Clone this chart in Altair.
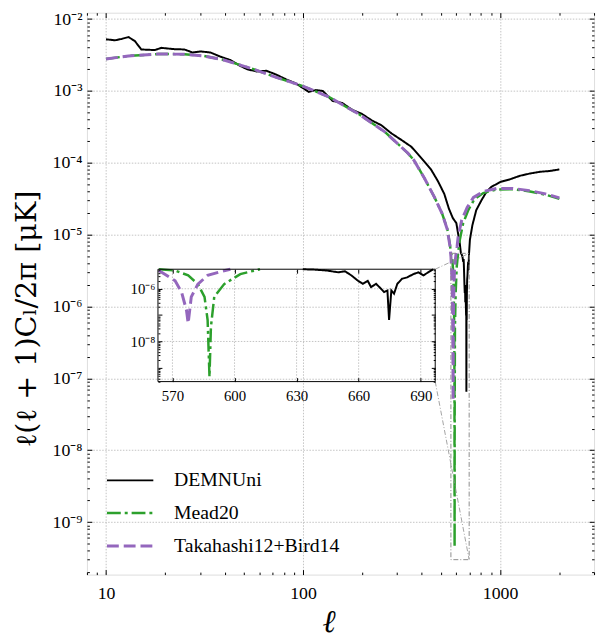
import altair as alt
import pandas as pd

# ---------------- data ----------------
SERIES = ["DEMNUni", "Mead20", "Takahashi12+Bird14"]
COLORS = ["#000000", "#2ca02c", "#9467bd"]
DASHES = [[1, 0], [14, 4, 3, 4], [12, 5]]
WIDTHS = [2, 3, 3.5]

ell_demnuni = [10, 11.1, 12, 13, 14, 15.1, 17.7, 19.1, 22.2, 25, 27.5, 30.2, 33.9, 38.1, 42.7, 47.9,
               51.9, 58.1, 65.2, 73.1, 82.1, 92.1, 107, 116, 126, 141, 158, 178, 199, 223, 250, 281,
               315, 354, 382, 412, 446, 483, 521, 550, 576, 600, 610, 624, 633, 639, 644.7, 650.2,
               653.4, 656.5, 659.7, 662.0, 664.4, 666.0, 668.4, 670.8, 672.3, 673.9, 674.7, 675.8,
               677.1, 678.7, 681.0, 683.4, 686.5, 688.9, 691.3, 693.6, 696.0, 703, 724, 757, 804,
               851, 901, 1000, 1123, 1262, 1418, 1594, 1790, 2000]
cl_demnuni = [5.24e-3, 5.07e-3, 5.3e-3, 5.63e-3, 4.96e-3, 3.78e-3, 3.71e-3, 3.98e-3, 3.82e-3, 3.78e-3,
              3.43e-3, 3.55e-3, 3.43e-3, 3.0e-3, 2.70e-3, 2.24e-3, 2.01e-3, 1.87e-3, 1.91e-3, 1.69e-3,
              1.45e-3, 1.27e-3, 9.7e-4, 1.03e-3, 1.0e-3, 7.3e-4, 6.8e-4, 5.45e-4, 4.8e-4, 3.9e-4,
              3.33e-4, 2.57e-4, 2.09e-4, 1.68e-4, 1.33e-4, 1.05e-4, 8.1e-5, 5.6e-5, 3.7e-5, 2.3e-5,
              1.7e-5, 1.45e-5, 1.1e-5, 7.7e-6, 5.5e-6, 5.3e-6, 4.9e-6, 4.2e-6, 4.6e-6, 3.2e-6,
              2.0e-6, 1.54e-6, 2.0e-6, 1.15e-6, 1.54e-6, 1.0e-6, 7.5e-7, 8.6e-7, 6.5e-8, 8.6e-7,
              6.5e-7, 1.54e-6, 2.4e-6, 2.7e-6, 3.6e-6, 4.2e-6, 3.2e-6, 4.2e-6, 5.5e-6, 8.5e-6,
              1.36e-5, 2.19e-5, 3.0e-5, 3.9e-5, 4.6e-5, 5.4e-5, 5.9e-5, 6.6e-5, 7.1e-5, 7.5e-5,
              7.7e-5, 8.1e-5]

ell_mead = [10, 13, 18.4, 25, 31.4, 39.6, 54, 73.1, 99.6, 135, 191, 260, 340, 366, 412, 465, 508,
            540, 557, 563.5, 571.3, 577.6, 582.3, 585.5, 587, 587.9, 588.6, 590.2, 595, 602.8, 612.3,
            625, 650, 690, 740, 822, 960, 1164, 1418, 1700, 2000]
cl_mead = [2.79e-3, 3.07e-3, 3.27e-3, 3.25e-3, 3.07e-3, 2.70e-3, 2.08e-3, 1.55e-3, 1.17e-3, 8.3e-4,
           4.8e-4, 2.7e-4, 1.37e-4, 1.08e-4, 6.2e-5, 3.3e-5, 1.97e-5, 1.2e-5, 7.2e-6, 5.5e-6,
           4.9e-6, 3.2e-6, 1.5e-6, 4.9e-7, 6.5e-8, 4.5e-10, 3.6e-8, 4.9e-7, 1.5e-6, 3.6e-6,
           5.5e-6, 8.5e-6, 1.45e-5, 2.2e-5, 3.1e-5, 3.8e-5, 4.25e-5, 4.3e-5, 4.0e-5, 3.6e-5, 3.15e-5]

ell_taka = [10, 13, 18.4, 25, 31.4, 39.6, 54, 73.1, 99.6, 135, 191, 260, 340, 366, 412, 465, 508,
            540, 557, 563.4, 571.3, 574.4, 576.8, 577.6, 579.1, 582.3, 587, 593.4, 598, 605, 613,
            639, 681, 733, 822, 960, 1164, 1418, 1700, 2000]
cl_taka = [2.79e-3, 3.07e-3, 3.27e-3, 3.25e-3, 3.07e-3, 2.70e-3, 2.08e-3, 1.55e-3, 1.17e-3, 8.3e-4,
           4.8e-4, 2.7e-4, 1.37e-4, 1.08e-4, 6.2e-5, 3.3e-5, 1.97e-5, 1.18e-5, 6.9e-6, 4.9e-6,
           2.0e-6, 7.5e-7, 1.5e-7, 4.9e-8, 4.9e-7, 1.5e-6, 3.2e-6, 4.5e-6, 5.5e-6, 6.8e-6,
           9.5e-6, 1.6e-5, 2.4e-5, 3.3e-5, 4.0e-5, 4.4e-5, 4.4e-5, 4.1e-5, 3.7e-5, 3.25e-5]

# tick labels
X_LABELS = [10, 100, 1000]
Y_LABELS = [1e-9, 1e-8, 1e-7, 1e-6, 1e-5, 1e-4, 1e-3, 1e-2]
INSET_X_LABELS = [570, 600, 630, 660, 690]
INSET_Y_LABELS = [1e-8, 1e-6]

# ---------------- layout ----------------
W, H = 514, 569.5
X_DOM = [8, 3000]
Y_DOM = [1.86e-10, 1.228e-2]
INSET_X_DOM = [563, 697]
INSET_Y_DOM = [3e-10, 5.5e-6]
INSET_X_RANGE = [72, 353]
INSET_Y_RANGE = [373.9, 260]
FONT = "Liberation Serif"
GRID_COLOR = "#b4b4b4"
GRID_DASH = [1.5, 1.5]
GRID = dict(grid=True, gridColor=GRID_COLOR, gridDash=GRID_DASH, gridWidth=0.8)

frames = []
for name, ls, vs in [(SERIES[0], ell_demnuni, cl_demnuni), (SERIES[1], ell_mead, cl_mead),
                     (SERIES[2], ell_taka, cl_taka)]:
    frames.append(pd.DataFrame({"series": name, "l": ls, "v": vs}))
df = pd.concat(frames, ignore_index=True)

MAJOR = "abs(log(datum.value)/LN10 - round(log(datum.value)/LN10)) < 0.001"
SUP = "['⁰','¹','²','³','⁴','⁵','⁶','⁷','⁸','⁹']"
SUP_EXPR = f"'10⁻' + {SUP}[round(-log(datum.value)/LN10)]"

x_ticks = [8, 9] + [k * 10 for k in range(1, 10)] + [k * 100 for k in range(1, 10)] + [1000, 2000, 3000]
y_ticks = [k * 10.0 ** e for e in range(-10, -1) for k in range(1, 10)
           if Y_DOM[0] <= k * 10.0 ** e <= Y_DOM[1]]
iy_ticks = [k * 10.0 ** e for e in range(-10, -5) for k in range(1, 10)
            if INSET_Y_DOM[0] <= k * 10.0 ** e <= INSET_Y_DOM[1]]


def tick_axis(orient, offset, values, big, small, test):
    return alt.Axis(orient=orient, offset=offset, values=values, labels=False, domain=False,
                    grid=False, ticks=True, tickColor="black", tickWidth=1,
                    tickSize={"condition": {"test": test, "value": big}, "value": small},
                    title=None, zindex=2)


xs = alt.Scale(type="log", domain=X_DOM, nice=False)
ys = alt.Scale(type="log", domain=Y_DOM, nice=False)
ixs = alt.Scale(type="linear", domain=INSET_X_DOM, range=INSET_X_RANGE, nice=False, zero=False)
iys = alt.Scale(type="log", domain=INSET_Y_DOM, range=INSET_Y_RANGE, nice=False)

legend = alt.Legend(title=None, orient="none", legendX=30.3, legendY=461, symbolType="M-2,0H2",
                    symbolSize=552, symbolStrokeWidth=3, labelFont=FONT, labelFontSize=20,
                    labelColor="black", labelOffset=31, rowPadding=10, padding=0, labelLimit=400)
color = alt.Color("series:N", scale=alt.Scale(domain=SERIES, range=COLORS), legend=legend)
dash = alt.StrokeDash("series:N", scale=alt.Scale(domain=SERIES, range=DASHES), legend=legend)
width = alt.StrokeWidth("series:N", scale=alt.Scale(domain=SERIES, range=WIDTHS), legend=None)

x_label_axis = alt.Axis(orient="bottom", values=X_LABELS, labelExpr="format(datum.value, 'd')",
                        ticks=False, domain=False, labelFont=FONT, labelFontSize=18,
                        labelColor="black", labelPadding=10, title="ℓ", titleFont=FONT,
                        titleFontSize=32, titleFontWeight="normal", titleFontStyle="italic",
                        titleColor="black", titleX=245, titleY=58, titleBaseline="alphabetic",
                        titleAlign="center", zindex=0, **GRID)
y_label_axis = alt.Axis(orient="left", values=Y_LABELS, labelExpr=SUP_EXPR, ticks=False,
                        domain=False, labelFont=FONT, labelFontSize=18, labelColor="black",
                        labelPadding=5, title="ℓ(ℓ + 1)Cₗ/2π [μK]", titleFont="DejaVu Serif",
                        titleFontSize=29, titleFontWeight="normal", titleColor="black",
                        titleX=-61, titleY=310, titleAngle=270, titleBaseline="middle",
                        titleAlign="center", zindex=0, **GRID)

main_lines = alt.Chart(df).mark_line().encode(
    x=alt.X("l:Q", scale=xs, axis=x_label_axis),
    y=alt.Y("v:Q", scale=ys, axis=y_label_axis),
    color=color, strokeDash=dash, strokeWidth=width)

ticks_b = alt.Chart(df).mark_point(opacity=0).encode(
    x=alt.X("l:Q", scale=xs, axis=tick_axis("top", -H, x_ticks, 5, 2.5, MAJOR)),
    y=alt.Y("v:Q", scale=ys, axis=tick_axis("right", -W, y_ticks, 5, 2.5, MAJOR)))
ticks_c = alt.Chart(df).mark_point(opacity=0).encode(
    x=alt.X("l:Q", scale=xs, axis=tick_axis("bottom", -H, x_ticks, 5, 2.5, MAJOR)),
    y=alt.Y("v:Q", scale=ys, axis=tick_axis("left", -W, y_ticks, 5, 2.5, MAJOR)))

zoom_df = pd.DataFrame({"x0": [INSET_X_DOM[0]], "x1": [INSET_X_DOM[1]],
                        "y0": [INSET_Y_DOM[0]], "y1": [INSET_Y_DOM[1]]})
zoom_rect = alt.Chart(zoom_df).mark_rect(fill="transparent", stroke="#8c8c8c", strokeWidth=1,
                                          strokeDash=[5, 2, 1, 2]).encode(
    x=alt.X("x0:Q", scale=xs, axis=None), x2="x1",
    y=alt.Y("y0:Q", scale=ys, axis=None), y2="y1")


def px_to_l(px):
    return X_DOM[0] * (X_DOM[1] / X_DOM[0]) ** (px / W)


def py_to_v(py):
    return Y_DOM[1] * (Y_DOM[0] / Y_DOM[1]) ** (py / H)


conn_df = pd.DataFrame({
    "xa": [px_to_l(INSET_X_RANGE[1])] * 2,
    "ya": [py_to_v(INSET_Y_RANGE[1]), py_to_v(INSET_Y_RANGE[0])],
    "xb": [INSET_X_DOM[1]] * 2,
    "yb": [INSET_Y_DOM[1], INSET_Y_DOM[0]]})
connectors = alt.Chart(conn_df).mark_rule(stroke="#8c8c8c", strokeWidth=0.8,
                                          strokeDash=[5, 2, 1, 2]).encode(
    x=alt.X("xa:Q", scale=xs, axis=None), y=alt.Y("ya:Q", scale=ys, axis=None),
    x2="xb", y2="yb")

main = alt.layer(main_lines, zoom_rect, connectors, ticks_b, ticks_c).resolve_axis(
    x="independent", y="independent")

# ---------------- inset ----------------
ix_label_axis = alt.Axis(orient="bottom", offset=-(H - INSET_Y_RANGE[0]), values=INSET_X_LABELS,
                         labelExpr="format(datum.value, 'd')", ticks=False, domain=False,
                         grid=False, labelFont=FONT, labelFontSize=15, labelColor="black",
                         labelPadding=7, title=None, zindex=0)
iy_label_axis = alt.Axis(orient="left", offset=-INSET_X_RANGE[0], values=INSET_Y_LABELS,
                         labelExpr=SUP_EXPR, ticks=False, domain=False, grid=False,
                         labelFont=FONT, labelFontSize=15, labelColor="black", labelPadding=3,
                         title=None, zindex=0)

igx_df = pd.DataFrame({"g": INSET_X_LABELS, "y0": INSET_Y_DOM[0], "y1": INSET_Y_DOM[1]})
igy_df = pd.DataFrame({"g": INSET_Y_LABELS, "x0": INSET_X_DOM[0], "x1": INSET_X_DOM[1]})
inset_grid_x = alt.Chart(igx_df).mark_rule(stroke=GRID_COLOR, strokeDash=GRID_DASH,
                                           strokeWidth=0.8).encode(
    x=alt.X("g:Q", scale=ixs, axis=None), y=alt.Y("y0:Q", scale=iys, axis=None), y2="y1")
inset_grid_y = alt.Chart(igy_df).mark_rule(stroke=GRID_COLOR, strokeDash=GRID_DASH,
                                           strokeWidth=0.8).encode(
    y=alt.Y("g:Q", scale=iys, axis=None), x=alt.X("x0:Q", scale=ixs, axis=None), x2="x1")

inset_filter = (f"datum.l >= {INSET_X_DOM[0]} && datum.l <= {INSET_X_DOM[1]} && "
                f"datum.v <= {INSET_Y_DOM[1] * 1.01}")
inset_lines = alt.Chart(df).transform_filter(inset_filter).mark_line().encode(
    x=alt.X("l:Q", scale=ixs, axis=ix_label_axis),
    y=alt.Y("v:Q", scale=iys, axis=iy_label_axis),
    color=color, strokeDash=dash, strokeWidth=width)

inset_frame = alt.Chart(zoom_df).mark_rect(fill="transparent", stroke="black", strokeWidth=1).encode(
    x=alt.X("x0:Q", scale=ixs, axis=None), x2="x1",
    y=alt.Y("y0:Q", scale=iys, axis=None), y2="y1")

ITEST = "datum.value >= 500"
iticks_1 = alt.Chart(df).transform_filter(inset_filter).mark_point(opacity=0).encode(
    x=alt.X("l:Q", scale=ixs, axis=tick_axis("top", -INSET_Y_RANGE[0], INSET_X_LABELS, 4, 4, ITEST)),
    y=alt.Y("v:Q", scale=iys, axis=tick_axis("right", -(W - INSET_X_RANGE[0]), iy_ticks, 4, 2, MAJOR)))
iticks_2 = alt.Chart(df).transform_filter(inset_filter).mark_point(opacity=0).encode(
    x=alt.X("l:Q", scale=ixs, axis=tick_axis("bottom", -(H - INSET_Y_RANGE[1]), INSET_X_LABELS, 4, 4, ITEST)),
    y=alt.Y("v:Q", scale=iys, axis=tick_axis("left", -INSET_X_RANGE[1], iy_ticks, 4, 2, MAJOR)))

inset = alt.layer(inset_grid_x, inset_grid_y, inset_lines, inset_frame, iticks_1, iticks_2).resolve_axis(
    x="independent", y="independent")

chart = alt.layer(main, inset).resolve_scale(x="independent", y="independent").properties(
    width=W, height=H,
    padding={"left": 80, "top": 0.5, "right": 4, "bottom": 60},
    autosize=alt.AutoSizeParams(type="none"),
).configure_view(stroke="black", strokeWidth=1.2).configure(background="white")

chart.save("out.html", embed_options={"renderer": "svg", "actions": False})
